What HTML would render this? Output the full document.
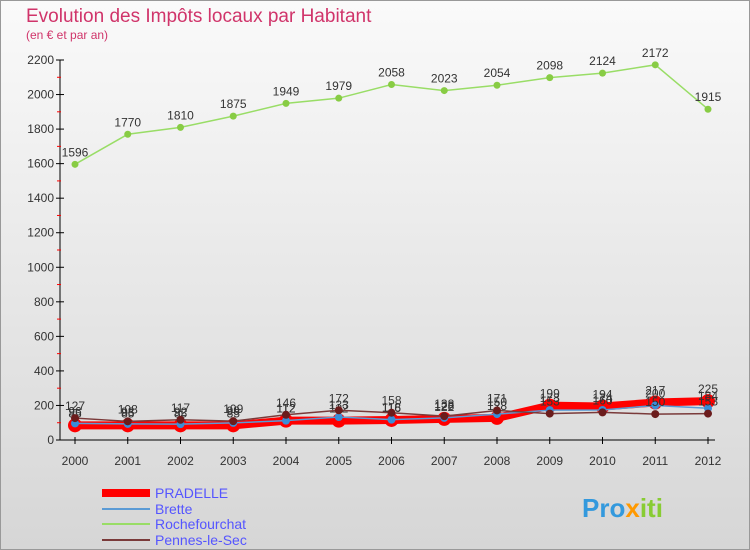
<!DOCTYPE html>
<html><head><meta charset="utf-8"><style>
body{margin:0;width:750px;height:550px;overflow:hidden;font-family:"Liberation Sans",sans-serif}
#bg{position:absolute;left:0;top:0;width:748px;height:548px;border:1px solid #999;background:linear-gradient(#fafafa,#d6d6d6)}
</style></head><body>
<div id="bg"></div>
<svg id="c" width="750" height="550" style="position:absolute;left:0;top:0">
<text x="26" y="22" font-size="19" fill="#d0346a">Evolution des Impôts locaux par Habitant</text>
<text x="26" y="39" font-size="12" fill="#d0346a">(en € et par an)</text>
<g id="axes"></g><g id="series"></g>
<g font-size="14" fill="#5555ff">
<line x1="102" y1="493" x2="150" y2="493" stroke="#ff0000" stroke-width="8"/>
<text x="155" y="498">PRADELLE</text>
<line x1="102" y1="509" x2="150" y2="509" stroke="#5b9bd5" stroke-width="2"/>
<text x="155" y="514">Brette</text>
<line x1="102" y1="524" x2="150" y2="524" stroke="#99dd66" stroke-width="2"/>
<text x="155" y="529">Rochefourchat</text>
<line x1="102" y1="540" x2="150" y2="540" stroke="#7a3a3a" stroke-width="2"/>
<text x="155" y="545">Pennes-le-Sec</text>
</g>
<text x="582" y="517" font-size="26" font-weight="bold" fill="#3399dd">Pro<tspan fill="#ff9900">x</tspan><tspan fill="#88cc33">iti</tspan></text>
</svg>
<script>
const years=[2000,2001,2002,2003,2004,2005,2006,2007,2008,2009,2010,2011,2012];
const yTicks=[0,200,400,600,800,1000,1200,1400,1600,1800,2000,2200];
const pradelle=[85,85,85,85,112,112,116,122,128,199,194,217,225];
const brette=[96,93,92,99,112,133,118,128,150,173,174,200,184];
const rochefourchat=[1596,1770,1810,1875,1949,1979,2058,2023,2054,2098,2124,2172,1915];
const pennes=[127,108,117,109,146,172,158,138,171,153,160,150,153];
const NS="http://www.w3.org/2000/svg";
const X=i=>75+i*(708-75)/12, Y=v=>440-v*380/2200;
function mk(t,a,p){const e=document.createElementNS(NS,t);for(const k in a)e.setAttribute(k,a[k]);p.appendChild(e);return e;}
const ax=document.getElementById('axes'), sg=document.getElementById('series');
let e=mk('line',{x1:60,y1:60,x2:60,y2:440,stroke:'#000'},ax);


e=mk('line',{x1:60,y1:440,x2:715,y2:440,stroke:'#000'},ax);


yTicks.forEach(v=>{const y=Y(v);
 mk('line',{x1:56,y1:y,x2:64,y2:y,stroke:'#000'},ax);
 if(v<2200)mk('line',{x1:57,y1:Y(v+100),x2:61,y2:Y(v+100),stroke:'#f00'},ax);
 const t=mk('text',{x:54,y:y+4,'text-anchor':'end','font-size':12,fill:'#333'},ax);t.textContent=v;
 
 });
years.forEach((yr,i)=>{const x=X(i);
 mk('line',{x1:x,y1:437,x2:x,y2:444,stroke:'#000'},ax);
 const t=mk('text',{x:x,y:465,'text-anchor':'middle','font-size':12,fill:'#333'},ax);t.textContent=yr;
 
 });
function series(d,name,col,w,r,dot){
 const g=mk('g',{},sg);
 
 
 mk('polyline',{points:d.map((v,i)=>X(i)+','+Y(v)).join(' '),fill:'none',stroke:col,'stroke-width':w},g);
 d.forEach((v,i)=>{const c=mk('circle',{cx:X(i),cy:Y(v),r:r,fill:dot},g);
  
  
  const t=mk('text',{x:X(i),y:Y(v)-8,'text-anchor':'middle','font-size':12,fill:'#333'},g);t.textContent=v;
  
  });
}
series(rochefourchat,'rochefourchat','#99dd66',1.5,3.5,'#88cc44');
series(pradelle,'pradelle','#ff0000',8,7,'#ff0000');
series(brette,'brette','#5b9bd5',1.5,4,'#3a8ed8');
series(pennes,'pennes','#7a3a3a',1.5,4,'#6b1c1c');
</script>
</body></html>
